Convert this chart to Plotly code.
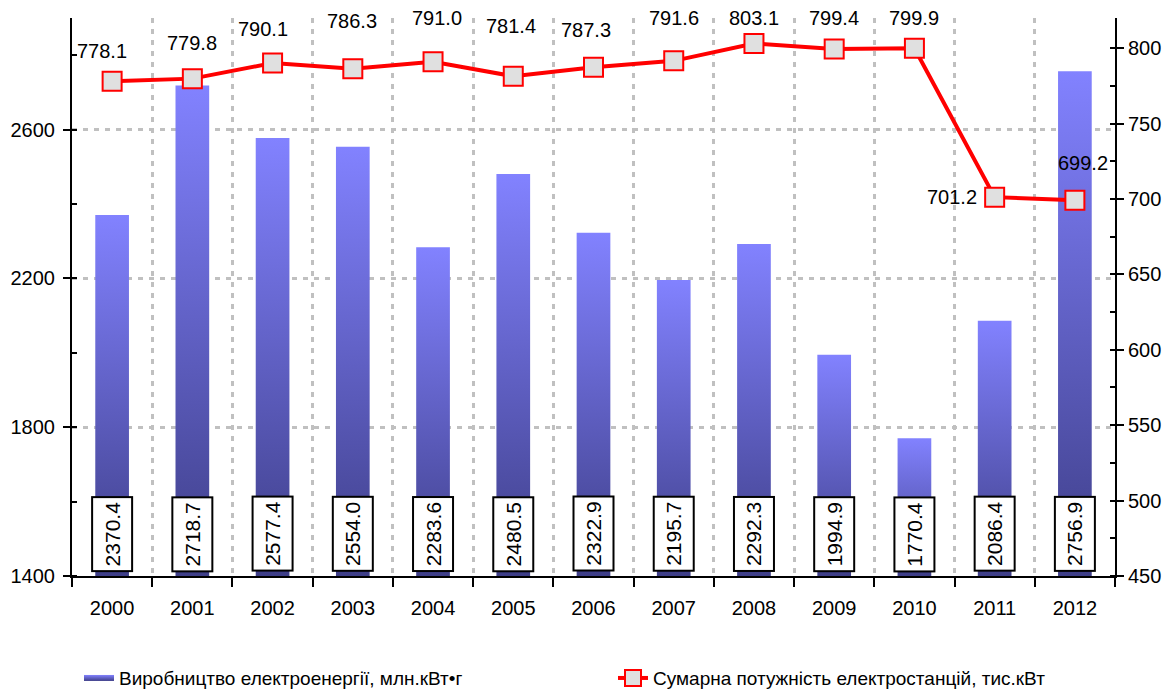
import plotly.graph_objects as go
import numpy as np

years = ["2000", "2001", "2002", "2003", "2004", "2005", "2006",
         "2007", "2008", "2009", "2010", "2011", "2012"]
production = [2370.4, 2718.7, 2577.4, 2554.0, 2283.6, 2480.5, 2322.9,
              2195.7, 2292.3, 1994.9, 1770.4, 2086.4, 2756.9]
capacity = [778.1, 779.8, 790.1, 786.3, 791.0, 781.4, 787.3,
            791.6, 803.1, 799.4, 799.9, 701.2, 699.2]

bar_name = "Виробництво електроенергії, млн.кВт•г"
line_name = "Сумарна потужність електростанцій, тис.кВт"

# pixel nudges of the line value labels (as placed in the original chart)
label_dx = [-10, 0, -10, -1, 4, -2, -8, 0, 0, 0, 0, -16, 8]
label_dy = [30, 36, 34, 48, 44, 50, 37, 43, 25, 31, 30, 0, 37]

FONT = "Arial, Liberation Sans, sans-serif"
FS = 20
Y1_MIN, Y1_MAX = 1400, 2900
Y2_MIN, Y2_MAX = 450, 820
HALF = 0.21
TOP_C, BOT_C = "#8282ff", "#3e3e88"

xs = np.arange(len(years))
fig = go.Figure()

# gradient bars (one filled rectangle per bar, gradient from its base to its top)
for i, v in enumerate(production):
    fig.add_trace(go.Scatter(
        x=[i - HALF, i + HALF, i + HALF, i - HALF, i - HALF],
        y=[Y1_MIN, Y1_MIN, v, v, Y1_MIN],
        mode="none", fill="toself",
        fillgradient=dict(type="vertical",
                          colorscale=[[0, BOT_C], [1, TOP_C]],
                          start=Y1_MIN, stop=v),
        name=bar_name, legendgroup="bars", showlegend=(i == 0),
        legend="legend",
        hoverinfo="skip", yaxis="y",
    ))

fig.add_trace(go.Scatter(
    x=xs, y=capacity, yaxis="y2", name=line_name, legend="legend2",
    mode="lines+markers",
    line=dict(color="#ff0000", width=4),
    marker=dict(symbol="square", size=19, color="#e0e0e0",
                line=dict(color="#ff0000", width=2)),
))

ann = []
for i, v in enumerate(production):
    ann.append(dict(x=i, y=Y1_MIN, xref="x", yref="y", text=f"{v:.1f}",
                    textangle=-90, showarrow=False, yanchor="bottom",
                    yshift=4, bgcolor="white", bordercolor="black",
                    borderwidth=2, borderpad=4, width=64, height=30,
                    font=dict(family=FONT, size=21, color="black")))
for i, v in enumerate(capacity):
    a = dict(x=i, y=v, xref="x", yref="y2", text=f"{v:.1f}",
             showarrow=False, xshift=label_dx[i], yshift=label_dy[i],
             font=dict(family=FONT, size=FS, color="black"))
    if i == len(capacity) - 2:
        a["xanchor"] = "right"
    ann.append(a)

grid = dict(gridcolor="#c0c0c0", griddash="5px,6px", gridwidth=2.5)
leg = dict(orientation="h", xanchor="left", y=-0.183, yanchor="middle",
           font=dict(size=19), bgcolor="rgba(0,0,0,0)")

fig.update_layout(
    width=1166, height=683,
    margin=dict(l=64, r=59, t=10, b=115, autoexpand=False),
    paper_bgcolor="white", plot_bgcolor="white",
    font=dict(family=FONT, size=FS, color="black"),
    showlegend=True,
    annotations=ann,
    xaxis=dict(range=[-0.5, len(years) - 0.5], tickvals=xs, ticktext=years,
               ticks="", showgrid=False, zeroline=False, automargin=False,
               showline=True, linecolor="black", linewidth=2,
               ticklabelstandoff=13,
               minor=dict(tick0=-0.5, dtick=1, ticks="outside", ticklen=9,
                          tickwidth=2, tickcolor="black", showgrid=True, **grid)),
    yaxis=dict(range=[Y1_MIN, Y1_MAX], tick0=Y1_MIN, dtick=400,
               ticks="outside", ticklen=7, tickwidth=2, tickcolor="black",
               showline=True, linecolor="black", linewidth=2, automargin=False,
               zeroline=False, showgrid=True, **grid, ticklabelstandoff=4,
               minor=dict(dtick=200, ticks="inside", ticklen=5, tickwidth=2,
                          tickcolor="black", showgrid=False)),
    yaxis2=dict(range=[Y2_MIN, Y2_MAX], tick0=Y2_MIN, dtick=50,
                overlaying="y", side="right", showgrid=False, zeroline=False,
                ticks="outside", ticklen=7, tickwidth=2, tickcolor="black",
                showline=True, linecolor="black", linewidth=2, automargin=False,
                minor=dict(dtick=25, ticks="inside", ticklen=5, tickwidth=2,
                           tickcolor="black", showgrid=False)),
    legend=dict(x=0.0067, **leg),
    legend2=dict(x=0.5187, **leg),
)

fig.write_html("out.html")
